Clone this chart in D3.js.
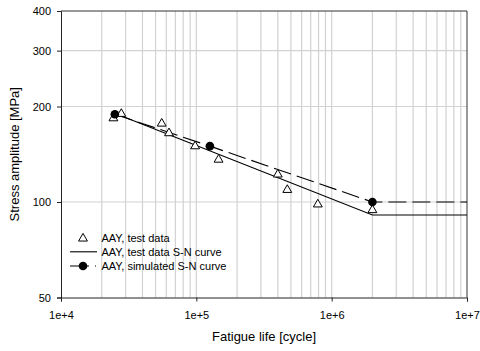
<!DOCTYPE html>
<html>
<head>
<meta charset="utf-8">
<script src="https://cdn.jsdelivr.net/npm/d3@7"></script>
<style>
  body { margin: 0; background: #fff; }
  text { font-family: "Liberation Sans", Arial, sans-serif; fill: #000; }
</style>
</head>
<body>
<div id="chart"></div>
<script>
// test data (cycles, MPa)
const testLife = [2.44e4, 2.79e4, 5.55e4, 6.28e4, 9.8e4, 1.46e5, 4.0e5, 4.7e5, 7.9e5, 2.0e6];
const testStress = [185, 191, 178, 166, 151, 137, 123, 110, 99, 95];

// S-N curve fitted to test data
const testCurveLife = [2.6e4, 2.0e6, 1e7];
const testCurveStress = [189, 91, 91];

// simulated S-N curve
const simLife = [2.5e4, 1.26e5, 2.0e6, 1e7];
const simStress = [189, 150, 100, 100];
const simMarkers = 3; // dots on the first three points

const yTicks = [50, 100, 200, 300, 400];
const xTicks = [1e4, 1e5, 1e6, 1e7];
const xTickLabels = ["1e+4", "1e+5", "1e+6", "1e+7"];
const legendLabels = ["AAY, test data", "AAY, test data S-N curve", "AAY, simulated S-N curve"];

const width = 480;
const height = 351;
const margin = { top: 11, right: 13, bottom: 53.5, left: 61 };
const innerW = width - margin.left - margin.right;
const innerH = height - margin.top - margin.bottom;

const svg = d3.select("#chart")
    .append("svg")
    .attr("width", width)
    .attr("height", height);

const x = d3.scaleLog().domain([1e4, 1e7]).range([margin.left, margin.left + innerW]);
const y = d3.scaleLog().domain([50, 400]).range([margin.top + innerH, margin.top]);

// vertical grid at every minor decade step
const minor = [];
for (let d = 1e4; d < 1e7; d *= 10) {
  for (let k = 1; k < 10; k++) minor.push(d * k);
}
svg.append("g")
   .selectAll("line")
   .data(minor.filter(v => v > 1e4))
   .enter()
   .append("line")
   .attr("x1", d => x(d))
   .attr("x2", d => x(d))
   .attr("y1", margin.top)
   .attr("y2", margin.top + innerH)
   .attr("stroke", "#d2d2d2")
   .attr("stroke-width", 1.2);

svg.append("g")
   .selectAll("line")
   .data([100, 200, 300])
   .enter()
   .append("line")
   .attr("x1", margin.left)
   .attr("x2", margin.left + innerW)
   .attr("y1", d => y(d))
   .attr("y2", d => y(d))
   .attr("stroke", "#d2d2d2")
   .attr("stroke-width", 1.2);

// frame
svg.append("line")
   .attr("x1", margin.left).attr("x2", margin.left + innerW)
   .attr("y1", margin.top).attr("y2", margin.top)
   .attr("stroke", "#333").attr("stroke-width", 1);
svg.append("line")
   .attr("x1", margin.left + innerW).attr("x2", margin.left + innerW)
   .attr("y1", margin.top).attr("y2", margin.top + innerH)
   .attr("stroke", "#333").attr("stroke-width", 1);

// axes
const xAxis = svg.append("g")
    .attr("transform", `translate(0,${margin.top + innerH})`)
    .call(d3.axisBottom(x).tickValues(xTicks).tickFormat((d, i) => xTickLabels[i]).tickSize(4).tickPadding(10));
const yAxis = svg.append("g")
    .attr("transform", `translate(${margin.left},0)`)
    .call(d3.axisLeft(y).tickValues(yTicks).tickFormat(d3.format("d")).tickSize(4).tickPadding(6));

[xAxis, yAxis].forEach(a => {
  a.select(".domain").attr("stroke", "#222");
  a.selectAll(".tick line").attr("stroke", "#222");
  a.selectAll("text").attr("font-size", 11).attr("font-family", "Liberation Sans, Arial, sans-serif").attr("fill", "#000");
});

// axis titles
svg.append("text")
   .attr("x", margin.left + innerW / 2)
   .attr("y", 341)
   .attr("text-anchor", "middle")
   .attr("font-size", 13)
   .text("Fatigue life [cycle]");
svg.append("text")
   .attr("transform", `translate(19,${margin.top + innerH / 2}) rotate(-90)`)
   .attr("text-anchor", "middle")
   .attr("font-size", 13)
   .text("Stress amplitude [MPa]");

const line = d3.line().x(d => x(d[0])).y(d => y(d[1]));

// test data S-N curve
svg.append("path")
   .datum(testCurveLife.map((v, i) => [v, testCurveStress[i]]))
   .attr("d", line)
   .attr("fill", "none")
   .attr("stroke", "#000")
   .attr("stroke-width", 1.1);

// simulated S-N curve
svg.append("path")
   .datum(simLife.map((v, i) => [v, simStress[i]]))
   .attr("d", line)
   .attr("fill", "none")
   .attr("stroke", "#000")
   .attr("stroke-width", 1.1)
   .attr("stroke-dasharray", "18,6");

const tri = d3.symbol().type(d3.symbolTriangle).size(34);

// test data triangles
svg.append("g")
   .selectAll("path")
   .data(testLife.map((v, i) => [v, testStress[i]]))
   .enter()
   .append("path")
   .attr("d", tri)
   .attr("transform", d => `translate(${x(d[0])},${y(d[1]) + 1})`)
   .attr("fill", "#fff")
   .attr("stroke", "#000")
   .attr("stroke-width", 1);

// simulated dots
svg.append("g")
   .selectAll("circle")
   .data(simLife.slice(0, simMarkers).map((v, i) => [v, simStress[i]]))
   .enter()
   .append("circle")
   .attr("cx", d => x(d[0]))
   .attr("cy", d => y(d[1]))
   .attr("r", 4.3)
   .attr("fill", "#000");

// legend (no background, grid shows through)
const legend = svg.append("g");
const rowY = [237.5, 251.8, 266];
legend.append("path")
      .attr("d", tri)
      .attr("transform", `translate(83,${rowY[0] + 1})`)
      .attr("fill", "#fff").attr("stroke", "#000");
legend.append("line")
      .attr("x1", 70).attr("x2", 97).attr("y1", rowY[1]).attr("y2", rowY[1])
      .attr("stroke", "#000").attr("stroke-width", 1.1);
legend.append("line")
      .attr("x1", 70).attr("x2", 96).attr("y1", rowY[2]).attr("y2", rowY[2])
      .attr("stroke", "#000").attr("stroke-width", 1.1)
      .attr("stroke-dasharray", "19,6");
legend.append("circle")
      .attr("cx", 83).attr("cy", rowY[2]).attr("r", 4.3).attr("fill", "#000");
legend.selectAll("text")
      .data(legendLabels)
      .enter()
      .append("text")
      .attr("x", 101.5)
      .attr("y", (d, i) => rowY[i] + 4)
      .attr("font-size", 11)
      .text(d => d);
</script>
</body>
</html>
